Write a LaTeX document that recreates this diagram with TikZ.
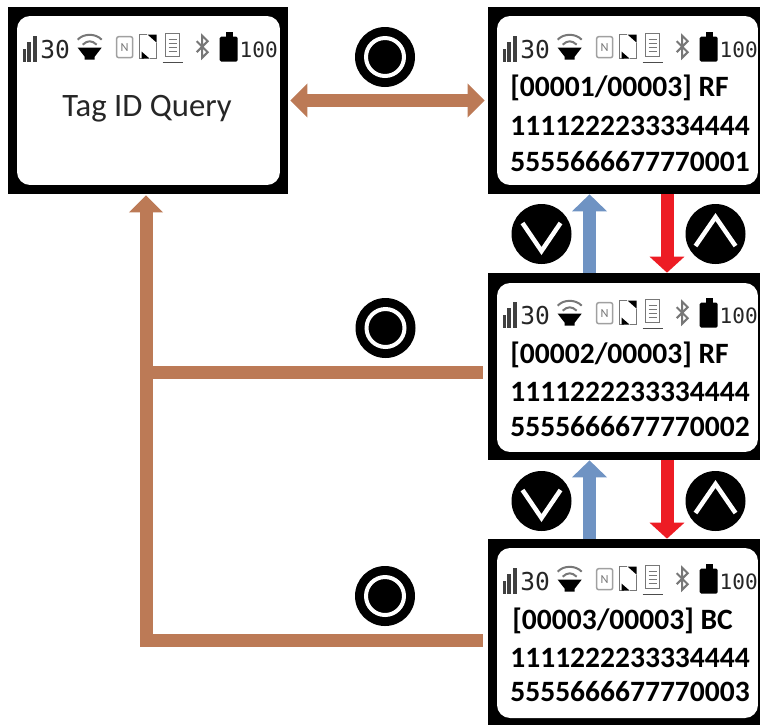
\documentclass[tikz,border=0pt]{standalone}
\usepackage{fontspec}
\setmainfont{Carlito}
\newfontfamily\statfont{DejaVu Sans Mono}
\usetikzlibrary{positioning, calc, arrows.meta}
\definecolor{backbrown}{HTML}{BC7A56}
\definecolor{nextblue}{HTML}{6F93C3}
\definecolor{prevred}{HTML}{ED1C24}
\definecolor{icongray}{HTML}{777777}

\begin{document}
\begin{tikzpicture}[
        x=0.02cm, y=-0.02cm,
        screenbox/.style={rectangle, fill=black, inner sep=0pt, minimum width=5.44cm, minimum height=3.74cm},
        dispbox/.style={rectangle, fill=white, rounded corners=0.26cm, inner sep=0pt, minimum width=5.22cm, minimum height=3.38cm},
        rowtext/.style={anchor=west, inner sep=0pt, font=\fontsize{16.8}{18}\selectfont\bfseries, text=black},
        okkey/.style={circle, fill=black, inner sep=0pt, minimum size=1.2cm, path picture={
            \draw[white, line width=0.08cm] (path picture bounding box.center) circle (0.38cm);
        }},
        downkey/.style={circle, fill=black, inner sep=0pt, minimum size=1.2cm, path picture={
            \draw[white, line width=0.09cm] ([shift={(-19,-11)}]path picture bounding box.center) -- ([shift={(0,17)}]path picture bounding box.center) -- ([shift={(19,-11)}]path picture bounding box.center);
        }},
        upkey/.style={circle, fill=black, inner sep=0pt, minimum size=1.2cm, path picture={
            \draw[white, line width=0.09cm] ([shift={(-20,12)}]path picture bounding box.center) -- ([shift={(0,-17)}]path picture bounding box.center) -- ([shift={(20,12)}]path picture bounding box.center);
        }},
        backline/.style={draw=backbrown, line width=0.26cm},
        backarrow/.style={backline, -{Triangle[length=0.34cm, width=0.66cm]}},
        bothway/.style={backline, {Triangle[length=0.34cm, width=0.66cm]}-{Triangle[length=0.34cm, width=0.66cm]}},
        nextarrow/.style={draw=nextblue, line width=0.26cm, -{Triangle[length=0.34cm, width=0.68cm]}},
        prevarrow/.style={draw=prevred, line width=0.26cm, -{Triangle[length=0.32cm, width=0.68cm]}},
        statusbar/.pic={
            \fill[black!75] (15,42) rectangle (18,55);
            \fill[black!75] (19.5,35) rectangle (23,55);
            \fill[black!75] (25,29) rectangle (29,55);
            \node[inner sep=0pt, text=black!85, font=\statfont\fontsize{14}{14}\selectfont] (signal) at (47.5,43) {30};
            % speaker
            \fill[black] (70,41) -- (94,41) -- (87,50) -- (87,53) -- (77,53) -- (77,50) -- cycle;
            \draw[icongray, line width=0.04cm] (70,33) .. controls (76,26.5) and (88,26.5) .. (94,33);
            \draw[icongray, line width=0.04cm] (75,38) .. controls (80,33.5) and (84,33.5) .. (89,38);
            % nfc
            \node[draw=icongray!70, rounded corners=0.04cm, line width=0.03cm, inner sep=0pt, minimum width=0.32cm, minimum height=0.42cm, text=icongray, font=\fontsize{7}{7}\selectfont] (nfcmark) at (117,40.5) {N};
            \draw[icongray, line width=0.03cm] (139,28) -- (132,28) -- (132,52) -- (136,52);
            \draw[icongray, line width=0.03cm] (149,36) -- (149,52) -- (142,52);
            \fill[black] (140,28) -- (149,28) -- (149,36) -- cycle;
            \fill[black] (134,45) -- (134,52) -- (142,52) -- cycle;
            % document
            \draw[icongray, line width=0.03cm] (158,27) rectangle (172,50);
            \draw[icongray, line width=0.03cm] (161,33) -- (169,33) (161,37) -- (169,37) (161,41) -- (169,41) (161,45) -- (169,45);
            \draw[black!70, line width=0.03cm] (155,56) -- (175,56);
            % bluetooth
            \draw[icongray, line width=0.04cm] (189,34.5) -- (200,45.5) -- (194.5,51) -- (194.5,29) -- (200,34.5) -- (189,45.5);
            % battery
            \fill[black, rounded corners=0.03cm] (212,30) rectangle (230,55);
            \fill[black] (218,25) rectangle (225,31);
            \node[inner sep=0pt, text=black!85, font=\statfont\fontsize{12}{12}\selectfont] (charge) at (251,43) {100};
        }
    ]
        \useasboundingbox (0,0) rectangle (760,725);

        \node[screenbox, minimum width=5.6cm] (query) at (148,100.5) {};
        \node[dispbox, minimum width=5.26cm] (querydisp) at (148.5,100.5) {};
        \node[screenbox] (rec1) at (624,100.5) {};
        \node[dispbox] (rec1disp) at (627.5,100.5) {};
        \node[screenbox] (rec2) at (624,366.5) {};
        \node[dispbox] (rec2disp) at (627.5,367.5) {};
        \node[screenbox, minimum height=3.72cm] (rec3) at (624,632) {};
        \node[dispbox, minimum height=3.4cm] (rec3disp) at (627.5,633) {};

        \pic (stat0) at (query.north west) {statusbar};
        \pic (stat1) at (rec1.north west) {statusbar};
        \pic (stat2) at (rec2.north west) {statusbar};
        \pic (stat3) at (rec3.north west) {statusbar};

        \node[inner sep=0pt, font=\fontsize{18.6}{20}\selectfont, text=black!85] (querytext) at (147,109) {Tag ID Query};

        \node[rowtext] (rec1head) at (510,88) {[00001/00003] RF};
        \node[rowtext] (rec1epc) at (510,126) {1111222233334444};
        \node[rowtext] (rec1tid) at (510,162) {5555666677770001};

        \node[rowtext] (rec2head) at (510,355) {[00002/00003] RF};
        \node[rowtext] (rec2epc) at (510,392) {1111222233334444};
        \node[rowtext] (rec2tid) at (510,427) {5555666677770002};

        \node[rowtext] (rec3head) at (512,621) {[00003/00003] BC};
        \node[rowtext] (rec3epc) at (510,658) {1111222233334444};
        \node[rowtext] (rec3tid) at (510,692) {5555666677770003};

        \node[okkey] (ok1) at (385,57) {};
        \node[okkey] (ok2) at (385.5,328) {};
        \node[okkey] (ok3) at (385,596) {};
        \node[downkey] (down1) at (541.5,234) {};
        \node[upkey] (up1) at (715.5,234) {};
        \node[downkey] (down2) at (541.5,501) {};
        \node[upkey] (up2) at (715.5,501) {};

        \coordinate (junction) at (146,372.5);
        \coordinate (corner) at (146,640);

        \draw[bothway, shorten <=0.04cm, shorten >=0.06cm] (query.east) -- (rec1.west);
        \draw[backarrow, shorten <=0.1cm, shorten >=0.02cm] (rec3.west |- corner) -- (corner) -- (query.south -| corner);
        \draw[backline, shorten <=0.1cm] (rec2.west |- junction) -- (junction);

        \draw[nextarrow] ([xshift=-0.69cm]rec2.north) -- ([xshift=-0.69cm]rec1.south);
        \draw[prevarrow] ([xshift=0.86cm]rec1.south) -- ([xshift=0.86cm]rec2.north);
        \draw[nextarrow] ([xshift=-0.69cm]rec3.north) -- ([xshift=-0.69cm]rec2.south);
        \draw[prevarrow] ([xshift=0.86cm]rec2.south) -- ([xshift=0.86cm]rec3.north);
    \end{tikzpicture}
\end{document}
